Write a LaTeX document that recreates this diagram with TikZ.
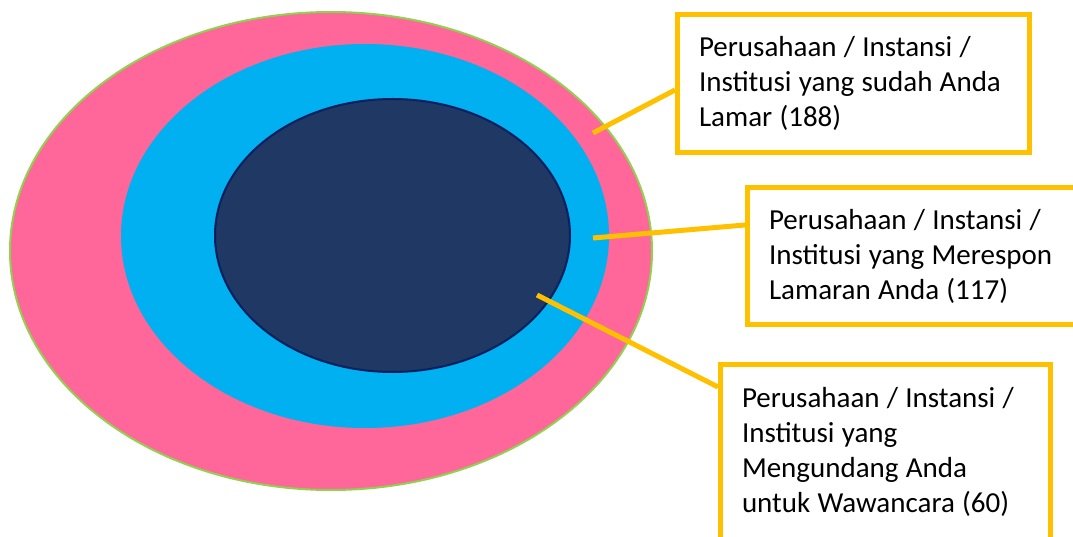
\documentclass[tikz,border=0pt]{standalone}
\usepackage{fontspec}
\setmainfont{Carlito}
\usepackage{xcolor}
\usepackage{tikz}

\definecolor{pinkring}{RGB}{255,102,153}
\definecolor{bluering}{RGB}{0,176,240}
\definecolor{navycore}{RGB}{31,56,100}
\definecolor{navyedge}{RGB}{0,32,96}
\definecolor{greenedge}{RGB}{146,208,80}
\definecolor{goldline}{RGB}{255,192,0}

\tikzset{
    callout/.style = {draw = goldline, line width = 5pt, fill = white,
        anchor = north west, align = left, inner xsep = 21.5pt, inner ysep = 0pt,
        font = \fontsize{29}{35}\selectfont,
        execute at begin node = {\spaceskip 0.25em\relax}},
    leader/.style = {draw = goldline, line width = 5pt}
}

\begin{document}
\begin{tikzpicture}[x = 1pt, y = -1pt]
        \useasboundingbox (0, 0) rectangle (1073, 537);

        \filldraw[color = greenedge, fill = pinkring, line width = 2pt]
            (331, 251) ellipse (321pt and 239pt);
        \fill[bluering] (365, 236) ellipse (244pt and 192pt);
        \filldraw[color = navyedge, fill = navycore, line width = 2pt]
            (392.5, 235.5) ellipse (177.5pt and 136.5pt);

        \coordinate (inLamar) at (593, 133);
        \coordinate (inRespon) at (593, 238);
        \coordinate (inUndang) at (537, 295);

        \node[callout, text width = 309pt, minimum height = 138pt] (lamar) at (675, 12)
            {Perusahaan / Instansi /\\Institusi yang sudah Anda\\Lamar (188)};
        \node[callout, text width = 330pt, minimum height = 137pt] (respon) at (745, 185)
            {Perusahaan / Instansi /\\Institusi yang Merespon\\Lamaran Anda (117)};
        \node[callout, text width = 287pt, minimum height = 175pt] (undang) at (718, 362)
            {Perusahaan / Instansi /\\Institusi yang\\Mengundang Anda\\untuk Wawancara (60)};

        \draw[leader] (inLamar) -- ([yshift = -78pt]lamar.north west);
        \draw[leader] (inRespon) -- ([yshift = -40pt]respon.north west);
        \draw[leader] (inUndang) -- ([yshift = -25pt]undang.north west);
    \end{tikzpicture}
\end{document}
